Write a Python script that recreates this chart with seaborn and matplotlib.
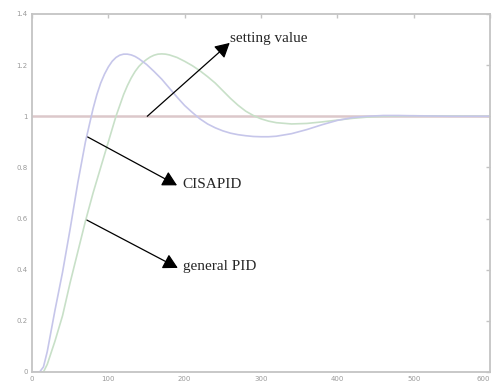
import matplotlib
matplotlib.use("Agg")
import matplotlib.pyplot as plt
import seaborn as sns
import pandas as pd

# ---- data ----
t_cis = [0, 10, 15, 20, 30, 40, 50, 60, 70, 80, 85, 90, 95, 100, 105, 110, 115, 120, 125,
         130, 135, 140, 150, 160, 170, 180, 190, 200, 210, 220, 230, 240, 250, 260, 270,
         280, 290, 300, 310, 320, 340, 360, 380, 400, 420, 440, 460, 480, 500, 550, 600]
y_cis = [0, 0, 0.02, 0.08, 0.24, 0.39, 0.56, 0.74, 0.90, 1.03, 1.085, 1.13, 1.165, 1.193,
         1.215, 1.23, 1.239, 1.243, 1.243, 1.24, 1.234, 1.225, 1.203, 1.175, 1.145, 1.11,
         1.075, 1.042, 1.015, 0.99, 0.97, 0.955, 0.943, 0.934, 0.928, 0.924, 0.921, 0.92,
         0.92, 0.922, 0.932, 0.948, 0.967, 0.984, 0.995, 1.0, 1.003, 1.003, 1.002, 1.0, 1.0]

t_pid = [0, 15, 20, 30, 40, 50, 60, 70, 80, 90, 100, 110, 120, 125, 130, 135, 140, 145,
         150, 155, 160, 165, 170, 175, 180, 190, 200, 210, 220, 230, 240, 250, 260, 270,
         280, 290, 300, 310, 320, 340, 360, 380, 400, 420, 440, 460, 500, 550, 600]
y_pid = [0, 0, 0.03, 0.12, 0.22, 0.35, 0.47, 0.59, 0.70, 0.80, 0.90, 1.0, 1.085, 1.12,
         1.15, 1.175, 1.195, 1.21, 1.222, 1.232, 1.239, 1.243, 1.244, 1.243, 1.24, 1.23,
         1.215, 1.198, 1.178, 1.155, 1.13, 1.10, 1.07, 1.043, 1.02, 1.003, 0.99, 0.981,
         0.975, 0.97, 0.972, 0.978, 0.985, 0.992, 0.997, 1.0, 1.002, 1.001, 1.0]

t_set = [0, 600]
y_set = [1, 1]

x_ticks = [0, 100, 200, 300, 400, 500, 600]
y_ticks = [0, 0.2, 0.4, 0.6, 0.8, 1, 1.2, 1.4]
y_ticklabels = ["0", "0.2", "0.4", "0.6", "0.8", "1", "1.2", "1.4"]

df_cis = pd.DataFrame({"t": t_cis, "y": y_cis})
df_pid = pd.DataFrame({"t": t_pid, "y": y_pid})
df_set = pd.DataFrame({"t": t_set, "y": y_set})

sns.set_style("white")
plt.rcParams["font.family"] = ["DejaVu Sans"]

fig = plt.figure(figsize=(4.93, 3.85), dpi=100)
ax = fig.add_axes([32 / 493, 1 - 372 / 385, 458 / 493, 358 / 385])

sns.lineplot(data=df_set, x="t", y="y", ax=ax, color="#dcc8ca", linewidth=1.8)
sns.lineplot(data=df_pid, x="t", y="y", ax=ax, color="#c8e0c8", linewidth=1.2)
sns.lineplot(data=df_cis, x="t", y="y", ax=ax, color="#c6c6ea", linewidth=1.2)

ax.set_xlim(0, 600)
ax.set_ylim(0, 1.4)
ax.set_xticks(x_ticks)
ax.set_xticklabels([str(v) for v in x_ticks])
ax.set_yticks(y_ticks)
ax.set_yticklabels(y_ticklabels)
ax.set_xlabel("")
ax.set_ylabel("")
xl = ax.get_xticklabels()
xl[-1].set_ha("right")

for s in ax.spines.values():
    s.set_visible(True)
    s.set_color("#c4c4c4")
    s.set_linewidth(1.3)
ax.tick_params(direction="in", length=3, width=1, colors="#c4c4c4",
               top=True, right=True, labelsize=5, labelcolor="#9a9a9a", pad=3)

serif = ["Liberation Serif", "DejaVu Serif"]
arrow = dict(arrowstyle="-|>,head_length=0.55,head_width=0.3", color="black",
             lw=0.9, mutation_scale=16, shrinkA=0, shrinkB=0)

ax.annotate("", xy=(259, 1.287), xytext=(151, 1.0), arrowprops=arrow)
ax.text(260, 1.305, "setting value", fontsize=11, family=serif, va="center", ha="left")

ax.annotate("", xy=(190, 0.73), xytext=(73, 0.919), arrowprops=arrow)
ax.text(197, 0.735, "CISAPID", fontsize=11, family=serif, va="center", ha="left")

ax.annotate("", xy=(191, 0.407), xytext=(72, 0.594), arrowprops=arrow)
ax.text(198, 0.412, "general PID", fontsize=11, family=serif, va="center", ha="left")

fig.savefig("out.png", dpi=100)
